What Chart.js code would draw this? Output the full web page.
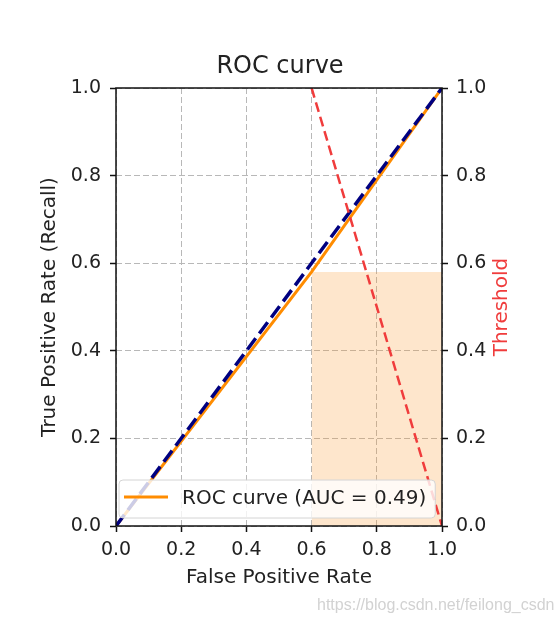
<!DOCTYPE html>
<html>
<head>
<meta charset="utf-8">
<script src="https://cdn.jsdelivr.net/npm/chart.js@4.4.0/dist/chart.umd.min.js"></script>
<style>
    html, body { margin: 0; padding: 0; background: #fff; }
    canvas { display: block; }
</style>
</head>
<body>
<canvas id="grafica" width="560" height="624"></canvas>
<script>
// values
const fpr = [0.0, 0.6, 1.0];
const tpr = [0.0, 0.58, 1.0];
const chanceX = [0.0, 1.0];
const chanceY = [0.0, 1.0];
const thresholdX = [0.6, 1.0];
const thresholdY = [1.0, 0.0];
const shadeX = [0.6, 1.0];
const shadeY = [0.58, 0.58];
const tickValues = [0.0, 0.2, 0.4, 0.6, 0.8, 1.0];
const rocLabel = 'ROC curve (AUC = 0.49)';

const pairs = (xs, ys) => xs.map((x, i) => ({ x: x, y: ys[i] }));

Chart.defaults.font.family = "'DejaVu Sans', sans-serif";
Chart.defaults.color = '#222';

const setTicks = s => { s.ticks = tickValues.map(v => ({ value: v })); };
const fmt = v => Number(v).toFixed(1);

//Frame, legend inside the plot, right title and watermark
const extras = {
    id: 'extras',
    afterDatasetsDraw(chart) {
        const { ctx, chartArea: a } = chart;
        ctx.save();
        ctx.strokeStyle = '#111';
        ctx.lineWidth = 1.5;
        ctx.strokeRect(a.left, a.top, a.right - a.left, a.bottom - a.top);

        //legend, bottom left
        const shown = chart.data.datasets.filter(d => d.label);
        ctx.font = "20px 'DejaVu Sans'";
        const textW = Math.max(...shown.map(d => ctx.measureText(d.label).width));
        const rowH = 38;
        const bx = a.left + 3, by = a.bottom - 8 - rowH * shown.length;
        const bw = 5 + 44 + 14 + textW + 9, bh = rowH * shown.length;
        ctx.beginPath();
        ctx.roundRect(bx, by, bw, bh, 4);
        ctx.fillStyle = 'rgba(255,255,255,0.8)';
        ctx.fill();
        ctx.strokeStyle = '#d4d4d4';
        ctx.lineWidth = 1;
        ctx.stroke();
        shown.forEach((d, i) => {
            const cy = by + rowH * i + rowH / 2;
            ctx.beginPath();
            ctx.moveTo(bx + 5, cy - 2);
            ctx.lineTo(bx + 49, cy - 2);
            ctx.strokeStyle = d.borderColor;
            ctx.lineWidth = d.borderWidth;
            ctx.stroke();
            ctx.fillStyle = '#222';
            ctx.textBaseline = 'middle';
            ctx.fillText(d.label, bx + 63, cy);
        });
        ctx.restore();
    },
    afterDraw(chart) {
        const { ctx, chartArea: a } = chart;
        ctx.save();
        ctx.translate(502, (a.top + a.bottom) / 2);
        ctx.rotate(-Math.PI / 2);
        ctx.font = "20px 'DejaVu Sans'";
        ctx.fillStyle = '#f03c3c';
        ctx.textAlign = 'center';
        ctx.textBaseline = 'middle';
        ctx.fillText('Threshold', 0, 0);
        ctx.restore();

        ctx.save();
        ctx.font = "16px 'Liberation Sans'";
        ctx.fillStyle = '#d2d2d2';
        ctx.textBaseline = 'middle';
        ctx.fillText('https://blog.csdn.net/feilong_csdn', 317, 606);
        ctx.restore();
    }
};

const gridOpts = {
    color: '#b8b8b8',
    lineWidth: 1,
    tickLength: 6,
    tickColor: '#111',
    tickWidth: 1.5,
    tickBorderDash: []
};

const grafica = document.getElementById('grafica').getContext('2d');
const chart = new Chart(grafica, {
    type: 'line',
    data: {
        datasets: [
            {
                label: '',
                data: pairs(thresholdX, thresholdY),
                yAxisID: 'y2',
                borderColor: '#f03c3c',
                borderWidth: 2.5,
                borderDash: [10, 5],
                pointRadius: 0,
                order: 1
            },
            {
                label: '',
                data: pairs(chanceX, chanceY),
                borderColor: '#000080',
                borderWidth: 3.5,
                borderDash: [14, 6],
                pointRadius: 0,
                order: 2
            },
            {
                label: rocLabel,
                data: pairs(fpr, tpr),
                borderColor: '#ff8c00',
                borderWidth: 3,
                pointRadius: 0,
                order: 3
            },
            {
                label: '',
                data: pairs(shadeX, shadeY),
                borderWidth: 0,
                borderColor: 'rgba(0,0,0,0)',
                backgroundColor: 'rgba(250,150,40,0.24)',
                fill: 'origin',
                pointRadius: 0,
                order: 4
            }
        ]
    },
    options: {
        responsive: false,
        animation: false,
        layout: { padding: 0 },
        scales: {
            x: {
                type: 'linear', min: 0, max: 1,
                afterBuildTicks: setTicks,
                afterFit: s => { s.height = 98; },
                ticks: { font: { size: 19 }, padding: 7, maxRotation: 0, callback: fmt },
                grid: gridOpts,
                border: { display: false, dash: [6, 3] },
                title: { display: true, text: 'False Positive Rate', font: { size: 20 }, padding: { top: 0, bottom: 34 } }
            },
            y: {
                type: 'linear', position: 'left', min: 0, max: 1,
                afterBuildTicks: setTicks,
                afterFit: s => { s.width = 116; },
                ticks: { font: { size: 19 }, padding: 9, callback: fmt },
                grid: gridOpts,
                border: { display: false, dash: [6, 3] },
                title: { display: true, text: 'True Positive Rate (Recall)', font: { size: 20 }, padding: { top: 38, bottom: 0 } }
            },
            y2: {
                type: 'linear', position: 'right', min: 0, max: 1,
                afterBuildTicks: setTicks,
                afterFit: s => { s.width = 118; },
                ticks: { font: { size: 19 }, padding: 8, callback: fmt },
                grid: Object.assign({}, gridOpts, { drawOnChartArea: false }),
                border: { display: false }
            }
        },
        plugins: {
            legend: { display: false },
            tooltip: { enabled: false },
            title: {
                display: true,
                text: 'ROC curve',
                color: '#222',
                font: { size: 24, weight: 'normal' },
                padding: { top: 52.2, bottom: 7 }
            }
        }
    },
    plugins: [extras]
});
</script>
</body>
</html>
